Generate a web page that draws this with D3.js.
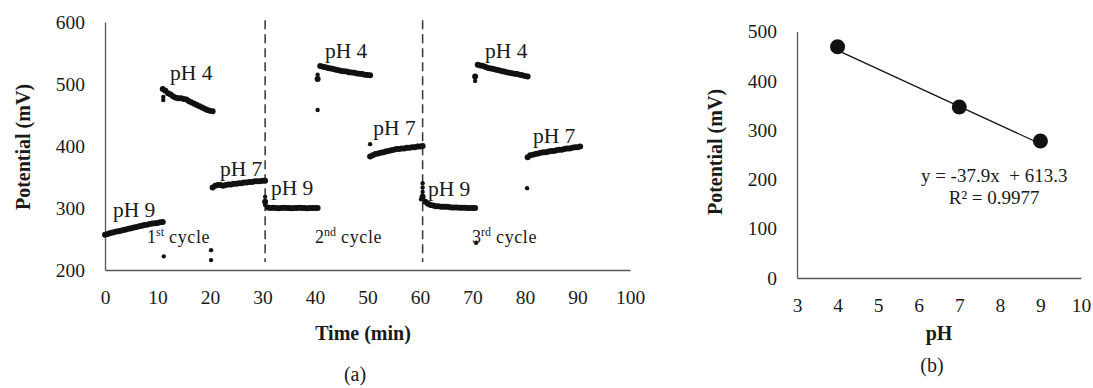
<!DOCTYPE html>
<html>
<head>
<meta charset="utf-8">
<script src="https://cdn.jsdelivr.net/npm/d3@7"></script>
<style>
  html, body { margin: 0; padding: 0; background: #fff; }
  svg { display: block; }
</style>
</head>
<body>
<svg id="chart" width="1093" height="388"></svg>
<script>
// ---- data ----
// (a) potential vs time, sampled every 0.5 min within each buffer segment
const sampleStep = 0.5;
const segStart = [0, 11, 20.5, 30.5, 40.5, 50.5, 60.5, 70.5, 80.5];
const segPH9a = [257, 258, 259.5, 260.5, 261.5, 262.5, 263.5, 264.5, 265.5, 266.5, 267.5, 268.5, 269.5, 270.5, 271.5, 272.5, 273, 274, 275, 275.5, 276, 277, 277.5];
const segPH4a = [492, 489, 485, 483, 480, 478, 477, 477, 476, 475, 472, 470, 468, 466, 464, 462, 460, 458, 457, 456];
const segPH7a = [333, 336, 337, 337, 336, 337, 338, 338, 339, 339, 340, 340, 341, 341, 342, 342, 343, 343, 343, 344, 344];
const segPH9b = [310, 301, 300, 300.5, 300, 299.5, 300, 300.5, 300, 300, 299.5, 300, 300, 300.5, 300, 300, 299.5, 300, 300, 300, 300];
const segPH4b = [508, 529, 528, 527, 526, 525, 524, 523, 522, 521, 520.5, 520, 519, 518.5, 518, 517, 516.5, 516, 515, 514.5, 514];
const segPH7b = [383, 385, 387, 388, 389, 390, 391, 392, 393, 394, 395, 395, 396, 396, 397, 397, 398, 398, 399, 399, 400];
const segPH9c = [318, 310, 307, 305, 304, 303, 303, 302, 302, 302, 301.5, 301, 301, 301, 300.5, 300.5, 300.5, 300, 300, 300, 300];
const segPH4c = [512, 531, 530, 529, 527.5, 526, 525, 524, 523, 522, 521, 520, 519, 518, 517.5, 516.5, 516, 515, 514, 513, 512];
const segPH7c = [382, 385, 386, 387, 388, 389, 390, 390, 391, 392, 392, 393, 394, 394, 395, 396, 396, 397, 398, 398, 399];
// isolated readings [time, mV]
const strayPoints = [[11.1, 474], [11.1, 479], [11.2, 222], [20.2, 232], [20.2, 216],
  [30.5, 318], [30.5, 305], [40.5, 458], [40.5, 515], [50.5, 403],
  [60.5, 340], [60.5, 333], [60.5, 326], [60.2, 314], [70.5, 505], [70.7, 244], [80.4, 332]];
const cycleBreaks = [30.5, 60.5];
const xTicksA = [0, 10, 20, 30, 40, 50, 60, 70, 80, 90, 100];
const yTicksA = [200, 300, 400, 500, 600];

// (b) calibration
const calPH = [4, 7, 9];
const calMV = [469, 347, 278];
const fitSlope = -37.9;
const fitIntercept = 613.3;
const fitR2 = 0.9977;
const xTicksB = [3, 4, 5, 6, 7, 8, 9, 10];
const yTicksB = [0, 100, 200, 300, 400, 500];

// ---- drawing ----
const FONT = "'Liberation Serif', 'Times New Roman', serif";
const INK = "#1a1a1a";
const AXIS = "#595959";
const svg = d3.select("#chart");

const segments = [segPH9a, segPH4a, segPH7a, segPH9b, segPH4b, segPH7b, segPH9c, segPH4c, segPH7c];
const pts = [];
segments.forEach((vals, i) => {
  vals.forEach((v, j) => pts.push({ t: segStart[i] + j * sampleStep, v: v }));
});

function styleAxis(g) {
  g.attr("font-family", FONT).attr("font-size", 19.5);
  g.select(".domain").attr("stroke", AXIS).attr("stroke-width", 1.3);
  g.selectAll("text").attr("fill", INK);
}

// panel (a)
const xA = d3.scaleLinear().domain([0, 100]).range([105, 630]);
const yA = d3.scaleLinear().domain([200, 600]).range([270, 22]);
const gA = svg.append("g");

gA.append("g")
  .attr("transform", `translate(0,${yA(200)})`)
  .call(d3.axisBottom(xA).tickValues(xTicksA).tickFormat(d3.format("d")).tickSize(0).tickSizeOuter(0).tickPadding(20))
  .call(styleAxis);
gA.append("g")
  .attr("transform", `translate(${xA(0)},0)`)
  .call(d3.axisLeft(yA).tickValues(yTicksA).tickFormat(d3.format("d")).tickSize(0).tickSizeOuter(0).tickPadding(20))
  .call(styleAxis);

// cycle separators
gA.selectAll("line.cycle")
  .data(cycleBreaks)
  .enter().append("line")
  .attr("class", "cycle")
  .attr("x1", d => xA(d)).attr("x2", d => xA(d))
  .attr("y1", yA(603)).attr("y2", yA(213))
  .attr("stroke", "#333").attr("stroke-width", 1.5)
  .attr("stroke-dasharray", "9,5");

gA.selectAll("circle.pt")
  .data(pts)
  .enter().append("circle")
  .attr("class", "pt")
  .attr("cx", d => xA(d.t)).attr("cy", d => yA(d.v))
  .attr("r", 3)
  .attr("fill", "#111");

gA.selectAll("circle.stray")
  .data(strayPoints)
  .enter().append("circle")
  .attr("class", "stray")
  .attr("cx", d => xA(d[0])).attr("cy", d => yA(d[1]))
  .attr("r", 2.2)
  .attr("fill", "#111");

// buffer labels: [time, mV, text]
const phLabels = [[1.5, 286, "pH 9"], [12.4, 506.5, "pH 4"], [21.9, 351.5, "pH 7"],
  [31.6, 321, "pH 9"], [41.9, 542, "pH 4"], [51.1, 417.5, "pH 7"],
  [61.5, 319.5, "pH 9"], [72.4, 542, "pH 4"], [81.5, 405, "pH 7"]];
gA.selectAll("text.ph")
  .data(phLabels)
  .enter().append("text")
  .attr("class", "ph")
  .attr("x", d => xA(d[0])).attr("y", d => yA(d[1]))
  .attr("font-family", FONT).attr("font-size", 21.5)
  .attr("fill", INK)
  .text(d => d[2]);

const cycleLabels = [[8.0, "1", "st"], [40.0, "2", "nd"], [69.9, "3", "rd"]];
const cyc = gA.selectAll("text.cyc")
  .data(cycleLabels)
  .enter().append("text")
  .attr("class", "cyc")
  .attr("x", d => xA(d[0])).attr("y", yA(243.5))
  .attr("font-family", FONT).attr("font-size", 18)
  .attr("fill", INK);
cyc.append("tspan").text(d => d[1]);
cyc.append("tspan").attr("font-size", 12).attr("dy", -7).text(d => d[2]);
cyc.append("tspan").attr("dy", 7).attr("letter-spacing", 0.6).text(" cycle");

gA.append("text")
  .attr("transform", "translate(30,147) rotate(-90)")
  .attr("text-anchor", "middle")
  .attr("font-family", FONT).attr("font-size", 20).attr("font-weight", "bold")
  .attr("fill", INK)
  .text("Potential  (mV)");
gA.append("text")
  .attr("x", 363).attr("y", 340)
  .attr("text-anchor", "middle")
  .attr("font-family", FONT).attr("font-size", 20).attr("font-weight", "bold")
  .attr("fill", INK)
  .text("Time  (min)");
gA.append("text")
  .attr("x", 355).attr("y", 381)
  .attr("text-anchor", "middle")
  .attr("font-family", FONT).attr("font-size", 20)
  .attr("fill", INK)
  .text("(a)");

// panel (b)
const xB = d3.scaleLinear().domain([3, 10]).range([797, 1081]);
const yB = d3.scaleLinear().domain([0, 500]).range([278, 31.5]);
const gB = svg.append("g");

gB.append("g")
  .attr("transform", `translate(0,${yB(0)})`)
  .call(d3.axisBottom(xB).tickValues(xTicksB).tickFormat(d3.format("d")).tickSize(0).tickSizeOuter(0).tickPadding(20))
  .call(styleAxis);
gB.append("g")
  .attr("transform", `translate(${xB(3)},0)`)
  .call(d3.axisLeft(yB).tickValues(yTicksB).tickFormat(d3.format("d")).tickSize(0).tickSizeOuter(0).tickPadding(20))
  .call(styleAxis);

const fitX = d3.extent(calPH);
gB.append("line")
  .attr("x1", xB(fitX[0])).attr("y1", yB(fitSlope * fitX[0] + fitIntercept))
  .attr("x2", xB(fitX[1])).attr("y2", yB(fitSlope * fitX[1] + fitIntercept))
  .attr("stroke", "#111").attr("stroke-width", 1.2);

gB.selectAll("circle.cal")
  .data(calPH)
  .enter().append("circle")
  .attr("class", "cal")
  .attr("cx", d => xB(d)).attr("cy", (d, i) => yB(calMV[i]))
  .attr("r", 7.5)
  .attr("fill", "#111");

gB.append("text")
  .attr("x", xB(7.86)).attr("y", yB(195))
  .attr("text-anchor", "middle")
  .attr("font-family", FONT).attr("font-size", 19)
  .attr("fill", INK)
  .attr("xml:space", "preserve")
  .text(`y = ${fitSlope}x  + ${fitIntercept}`);
gB.append("text")
  .attr("x", xB(7.86)).attr("y", yB(150))
  .attr("text-anchor", "middle")
  .attr("font-family", FONT).attr("font-size", 19)
  .attr("fill", INK)
  .text(`R² = ${fitR2}`);

gB.append("text")
  .attr("transform", "translate(722,152) rotate(-90)")
  .attr("text-anchor", "middle")
  .attr("font-family", FONT).attr("font-size", 20).attr("font-weight", "bold")
  .attr("fill", INK)
  .text("Potential  (mV)");
gB.append("text")
  .attr("x", 939).attr("y", 340)
  .attr("text-anchor", "middle")
  .attr("font-family", FONT).attr("font-size", 20).attr("font-weight", "bold")
  .attr("fill", INK)
  .text("pH");
gB.append("text")
  .attr("x", 932).attr("y", 372)
  .attr("text-anchor", "middle")
  .attr("font-family", FONT).attr("font-size", 20)
  .attr("fill", INK)
  .text("(b)");
</script>
</body>
</html>
